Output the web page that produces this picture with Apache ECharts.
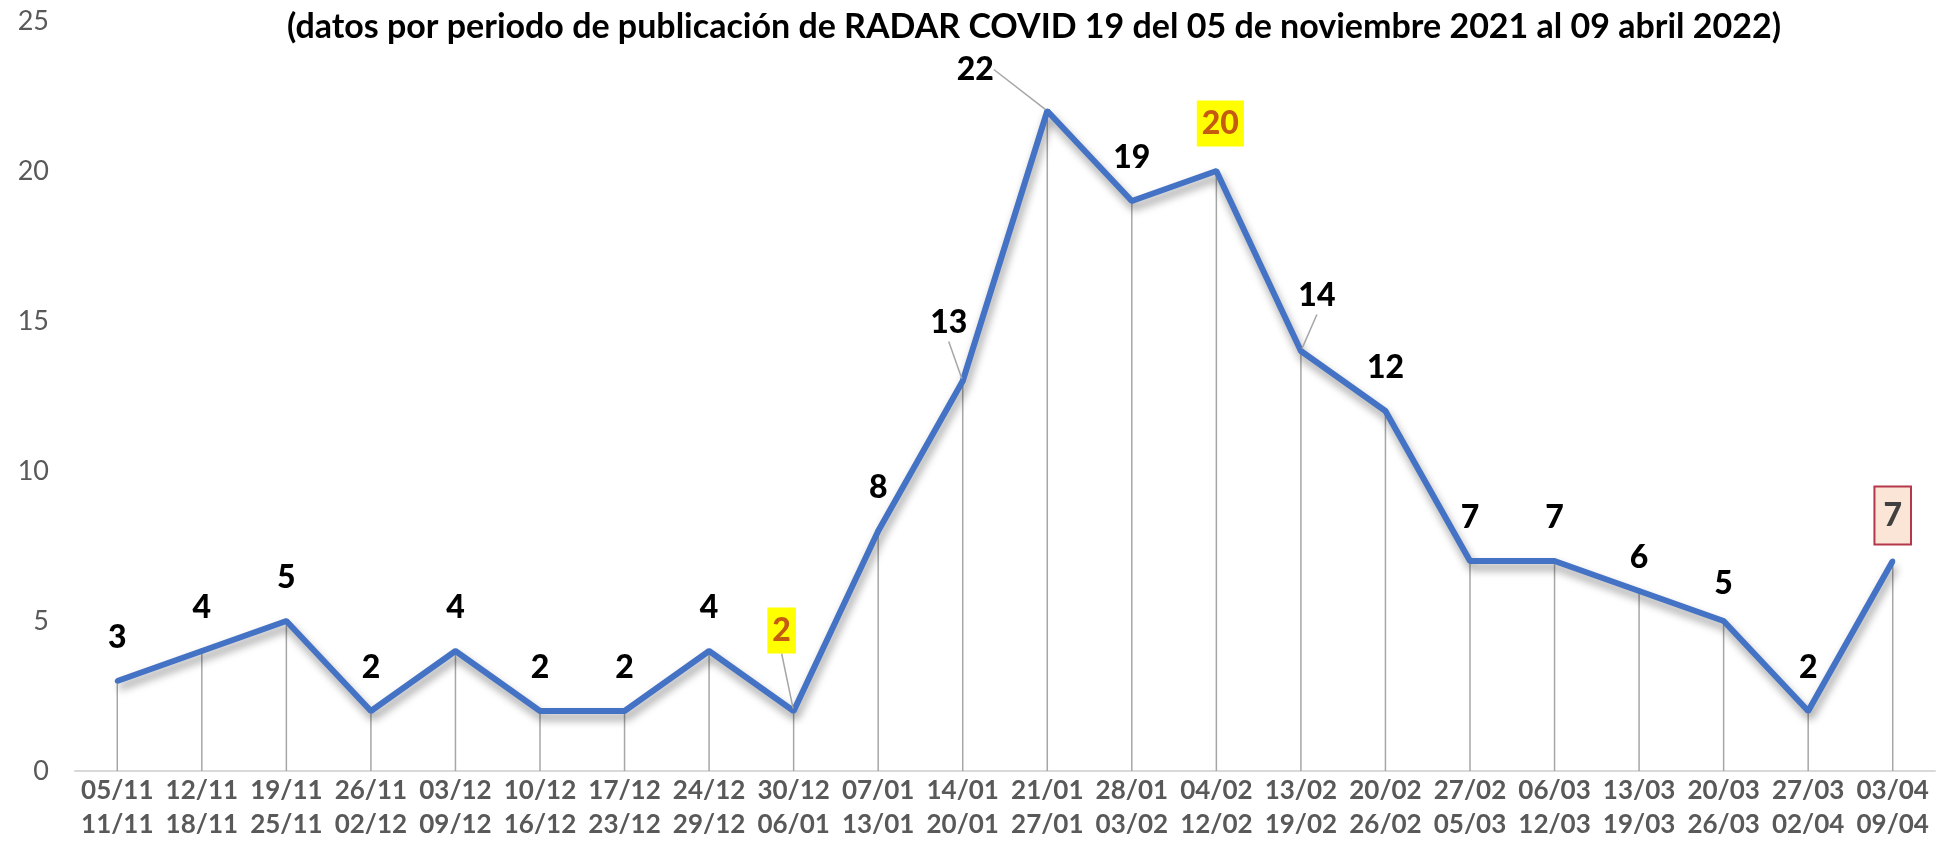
<!DOCTYPE html>
<html>
<head>
<meta charset="utf-8">
<script src="https://cdn.jsdelivr.net/npm/echarts@6/dist/echarts.min.js"></script>
<style>html,body{margin:0;padding:0;background:#fff;}#c{width:1938px;height:848px;}</style>
</head>
<body>
<div id="c"></div>
<script>
const titleText = '(datos por periodo de publicación de RADAR COVID 19 del 05 de noviembre 2021 al 09 abril 2022)';
const periodStart = ['05/11','12/11','19/11','26/11','03/12','10/12','17/12','24/12','30/12','07/01','14/01','21/01','28/01','04/02','13/02','20/02','27/02','06/03','13/03','20/03','27/03','03/04'];
const periodEnd = ['11/11','18/11','25/11','02/12','09/12','16/12','23/12','29/12','06/01','13/01','20/01','27/01','03/02','12/02','19/02','26/02','05/03','12/03','19/03','26/03','02/04','09/04'];
const values = [3,4,5,2,4,2,2,4,2,8,13,22,19,20,14,12,7,7,6,5,2,7];
const yTicks = [0,5,10,15,20,25];

// label styling / placement (not data)
const FONT = 'Lato, "Liberation Sans", sans-serif';
const yellowBox = {backgroundColor:'#FFFF00', color:'#C55A11', padding:[4,5]};
const labelStyleByIndex = {
  8: yellowBox,
  13: yellowBox,
  21: {backgroundColor:'#FBE5D6', color:'#404040', borderColor:'#B4374A', borderWidth:2, padding:[9,8]}
};
const labelShift = {8:[-12,-33], 10:[-14,-15], 11:[-72,2], 13:[4,0], 14:[16,-12], 18:[0,10], 19:[0,6], 21:[0,7]};
const leaderIdx = [8,10,11,14];

const lineData = values.map((v,i)=>{
  const item = {value:v};
  if (labelStyleByIndex[i]) item.label = labelStyleByIndex[i];
  if (leaderIdx.includes(i)) item.labelLine = {show:true, lineStyle:{color:'#A6A6A6', width:1.5}};
  return item;
});

const chart = echarts.init(document.getElementById('c'));
chart.setOption({
  animation:false,
  backgroundColor:'#fff',
  title:{text:titleText, left:282, top:5, textStyle:{fontFamily:FONT, fontWeight:'bold', fontSize:34, color:'#000'}},
  grid:{left:75, right:3, top:21, bottom:77, containLabel:false},
  xAxis:{
    type:'category', data:periodStart, boundaryGap:true,
    axisLine:{lineStyle:{color:'#D9D9D9', width:2}},
    axisTick:{show:false},
    axisLabel:{interval:0, margin:3, fontFamily:FONT, fontWeight:'bold', fontSize:26, lineHeight:34, color:'#595959',
      formatter:(v,i)=>v+'\n'+periodEnd[i]}
  },
  yAxis:{
    type:'value', min:yTicks[0], max:yTicks[yTicks.length-1], interval:5,
    axisLine:{show:false}, axisTick:{show:false}, splitLine:{show:false},
    axisLabel:{margin:26, fontFamily:FONT, fontSize:27, color:'#595959'}
  },
  series:[
    {type:'bar', data:values, barWidth:1.5, itemStyle:{color:'#A6A6A6'}, silent:true, z:1},
    {type:'line', data:lineData, z:3, symbol:'circle', symbolSize:5, itemStyle:{color:'#4472C4'},
      lineStyle:{color:'#4472C4', width:6, shadowColor:'rgba(0,0,0,0.4)', shadowBlur:8, shadowOffsetX:2, shadowOffsetY:6},
      label:{show:true, position:'top', distance:22, fontFamily:FONT, fontWeight:900, fontSize:32, lineHeight:38, color:'#000'},
      labelLayout:(p)=>{const s=labelShift[p.dataIndex]; return s?{dx:s[0], dy:s[1]}:{};}
    }
  ]
});
</script>
</body>
</html>
